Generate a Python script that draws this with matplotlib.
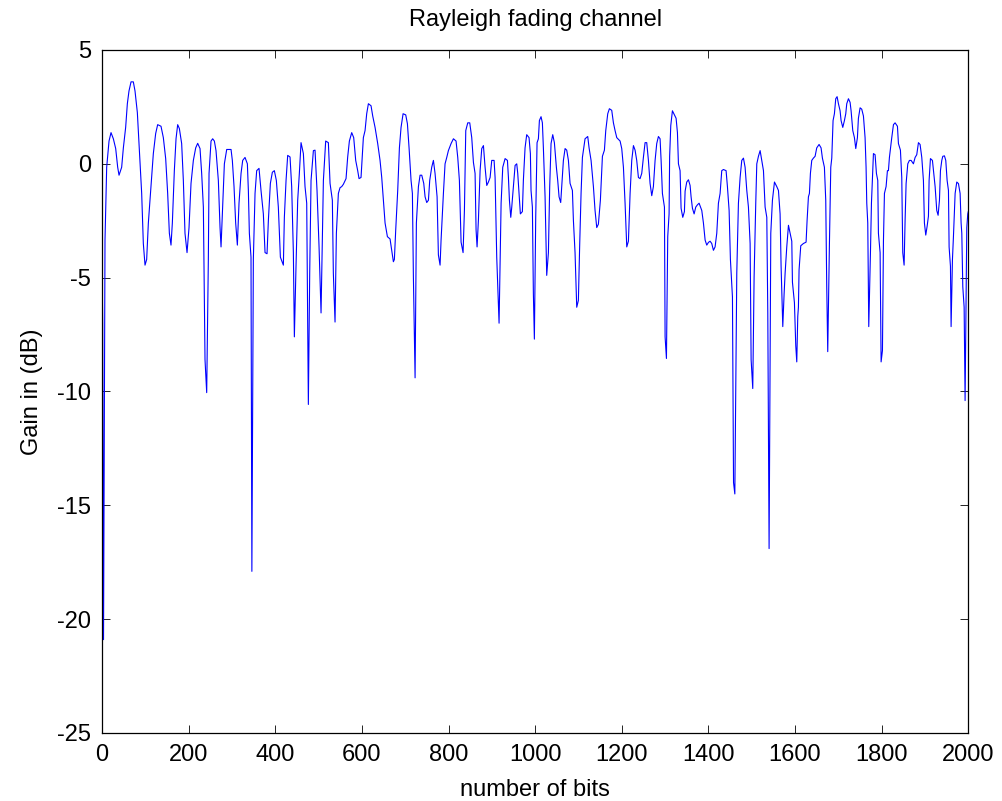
import matplotlib
matplotlib.use("Agg")
import matplotlib.pyplot as plt

# fading envelope (bit index, gain in dB)
bits = [
    0, 1.5, 3.5, 6.9, 10.8, 16.2, 20.8, 26.2, 31.6, 36.2, 39.3, 45.4, 49.3, 54.6, 58.5,
    62.3, 67, 72.3, 76.2, 81.6, 86.2, 91.6, 95.4, 99.3, 103.1, 107, 113.1, 118.5, 123.9,
    128.5, 136.2, 141.6, 147, 151.6, 155.5, 159.3, 162.4, 167, 170.9, 174.7, 178.6, 183.9,
    187.8, 191.6, 196.3, 200.9, 205.5, 210.9, 216.3, 220.9, 226.3, 230.1, 234, 237.8,
    241.7, 245.5, 247.1, 251.7, 255.5, 259.4, 263.2, 268.6, 272.5, 274.8, 277.8, 282.5,
    287.9, 297.9, 300.9, 304.8, 308.6, 312.5, 316.3, 321, 324.8, 330.2,
    335.6, 337.9, 340.2, 344, 346, 349.4, 353.3, 357.1, 362.5, 367.1, 372.5, 376.4, 381,
    384.1, 388.7, 393.3, 397.9, 402.5, 407.1, 411.8, 418.7, 421, 424.9, 428.7, 434.1,
    437.9, 441.8, 444.1, 447.9, 451.8, 455.6, 459.5, 464.9, 468.7, 472.6, 476.4, 479.5,
    482.6, 488, 491.8, 496.4, 501.1, 505.7, 508.7, 511.1, 516.4, 522.6, 526.5, 531.8,
    534.1, 538, 541.1, 545.7, 549.5, 553.4, 557.2, 563.4, 567.2, 571.1, 576.5, 581.1,
    585.7, 590.3, 593.4, 598, 603.4, 607.3, 611.1, 615, 621.1, 625, 630.4, 636.5, 641.9,
    645.8, 649.6, 653.5,
    658.9, 665, 668.9, 672.7, 675, 678.1, 682.7, 686.6, 690.4, 695.1, 701.2, 705.1,
    708.9, 713.5, 716.6, 718.9, 722.8, 725.8, 730.5, 734.3, 738.2, 742.8, 745.9, 749.7,
    753.6, 756.6, 761.2, 765.1, 768.9, 773.6, 776.6, 780.5, 782.8, 788.2, 792, 795.9,
    799.7, 805.9, 811.3, 817.4, 821.3, 825.1, 829, 833.6, 836.7, 839.8, 844.4, 849,
    853.6, 857.5, 861.3, 863.6, 865.9, 869, 872.9, 876.7, 880.6, 884.4, 888.3, 892.1,
    896, 899.8, 905.2, 907.5, 911.3, 916.7, 919, 921.4, 925.2, 930.6, 936, 938.3, 940.6,
    943.7, 946, 949.8, 953.7, 957.5, 959.8,
    962.8, 965.9, 970.5, 972.8, 976.7, 980.5, 985.9, 989, 990.5, 993.6, 995.9, 998.2,
    1001.3, 1004.4, 1007.5, 1009.8, 1013.6, 1016.7, 1019, 1022.9, 1026.7, 1030.6, 1033.6,
    1036.7, 1040.6, 1044.4, 1049, 1052.1, 1055.2, 1059, 1061.4, 1065.2, 1069.1, 1072.9,
    1076.8, 1080.6, 1086, 1088.3, 1092.1, 1096, 1099.8, 1102.9, 1106, 1109.1, 1115.2,
    1121.4, 1124.5, 1129.1, 1134.5, 1138.3, 1142.2, 1146, 1150.6, 1155.3, 1159.9, 1163,
    1167.6, 1171.4, 1176.8, 1180.7, 1184.5, 1188.4, 1196.1, 1199.9, 1203.8, 1207.6,
    1211.5, 1215.3, 1219.2, 1223, 1226.9, 1230.7, 1234.5, 1238.4, 1242.2, 1246.1, 1249.9,
    1253.8, 1257.6, 1261.5, 1265.3, 1269.2, 1273, 1276.9,
    1280.7, 1284.6, 1288.4, 1290.8, 1293.8, 1298.5, 1300, 1303.1, 1306.1, 1309.2, 1310.5,
    1313.1, 1316.9, 1321.5, 1325.4, 1328.5, 1330.8, 1334.6, 1336.9, 1340.8, 1344.6,
    1346.2, 1350, 1353.9, 1357.7, 1360, 1363.1, 1367, 1370.8, 1374.7, 1378.5, 1384.7,
    1388.5, 1392.4, 1396.2, 1400.1, 1403.9, 1407.7, 1411.6, 1415.4, 1419.3, 1423.1, 1427,
    1430.8, 1434.7, 1440.8, 1443.9, 1447.8, 1450.8, 1455.5, 1458, 1461, 1465.5, 1469.3,
    1473.2, 1477, 1480.9, 1484.7, 1488.6, 1492.4, 1496.3, 1498.6, 1502.4, 1505.5, 1509.3,
    1511.7, 1515.5, 1519.4, 1523.2, 1527.1, 1530.9, 1534.8, 1537.1, 1540.1, 1544, 1547.8,
    1552.5, 1557.8, 1561.7, 1565.5, 1567.8, 1571.7, 1574.8, 1577.1, 1580.9, 1584.8,
    1588.6, 1592.5, 1594, 1598.6, 1601.7, 1604, 1606.3,
    1607.8, 1609.3, 1613.2, 1619.3, 1625.5, 1627.8, 1630.9, 1633.2, 1635.5, 1638.6,
    1642.4, 1646.3, 1650.1, 1655.5, 1660.1, 1663.2, 1667.8, 1670.9, 1673.2, 1675.5,
    1679.4, 1682.5, 1684.8, 1687.8, 1690.9, 1694, 1697.1, 1700.2, 1704, 1706.3, 1710.2,
    1714, 1717.1, 1719.4, 1723.3, 1727.1, 1729.4, 1733.3, 1737.1, 1740.2, 1744, 1746.3,
    1750.2, 1754, 1757.9, 1761.7, 1764, 1765.6, 1767.9, 1770.2, 1774.1, 1776.4, 1778.7,
    1781, 1784.8, 1787.9, 1791, 1792.5, 1796.4, 1798.7, 1801.8, 1804.1, 1806.4, 1810.2,
    1813.3, 1815.6, 1817.9, 1823.3, 1827.2, 1831, 1836.4, 1838.7, 1843.3, 1846.4, 1848.7,
    1851.8, 1854.1, 1856.4, 1860.3, 1864.1, 1868, 1873.3, 1877.2, 1881, 1884.9, 1888.7,
    1892.6, 1896.4, 1898.7, 1901.8, 1904.9, 1908, 1909.5, 1912.6, 1917.2, 1921.8, 1923.4,
    1927.2, 1930.3, 1933.4, 1935.7, 1938.8, 1941.1, 1944.9, 1948, 1951.1, 1954.2, 1955.7,
    1958.8, 1960.3, 1963.4, 1965.7, 1969.6, 1973.4, 1977.3, 1981.1, 1983.4, 1985, 1987.3,
    1990.4, 1992.6, 1994.9, 1996.5, 1998.8, 2000,
]
gain_db = [
    -4.2, -7, -20.9, -3.35, -0.15, 1.0, 1.37, 1.1, 0.67, -0.15, -0.5, -0.15, 0.7, 1.6, 2.64,
    3.2, 3.6, 3.6, 3.2, 2.25, 0.58, -1.3, -3.5, -4.45, -4.2, -2.6, -1.0, 0.45, 1.33,
    1.72, 1.65, 1.15, 0.23, -1.3, -3.05, -3.57, -2.6, -0.3, 1.1, 1.72, 1.55, 0.89,
    -0.73, -3.05, -3.9, -2.8, -0.86, 0.15, 0.7, 0.9, 0.67, -0.42, -1.9, -8.6,
    -10.05, -4.2, -0.42, 1.0, 1.1, 1.0, 0.58, -0.73, -2.8, -3.65, -2.2, 0.0,
    0.63, 0.63, 0.15, -1.0, -2.6, -3.57, -1.73, -0.42, 0.15, 0.28,
    0.0, -1.17, -3.05, -4.1, -17.9, -4.2, -1.3, -0.3, -0.2, -1.17, -2.2, -3.9, -3.95,
    -2.48, -0.86, -0.37, -0.3, -0.73, -1.9, -4.1, -4.45, -2.35, -0.73, 0.37, 0.3,
    -1.0, -3.9, -7.6, -4.5, -1.6, -0.42, 0.93, 0.45, -1.0, -1.73, -10.57, -4.8,
    -0.73, 0.58, 0.6, -1.17, -3.65, -6.55, -3.2, -0.73, 1.0, 0.93, -0.86, -1.6,
    -4.8, -6.95, -3.05, -1.3, -1.05, -1.0, -0.9, -0.65, 0.3, 1.0, 1.37, 1.15,
    0.15, -0.3, -0.65, -0.6, 1.15, 1.46, 2.2, 2.64, 2.55, 2.1, 1.6, 0.89, 0.15,
    -0.6, -1.6, -2.6,
    -3.2, -3.3, -3.8, -4.3, -4.2, -2.9, -1.17, 0.7, 1.6, 2.2, 2.15, 1.76,
    0.7, -0.73, -1.3, -4.97, -9.4, -2.6, -1.0, -0.5, -0.5, -0.86, -1.45, -1.7,
    -1.6, -0.73, -0.15, 0.15, -0.42, -1.45, -4.0, -4.45, -3.35, -1.3, 0.0, 0.28,
    0.58, 0.89, 1.1, 1.0, 0.28, -0.73, -3.44, -3.9, -2.05, 1.46, 1.8, 1.8,
    1.15, 0.06, -0.42, -2.9, -3.65, -2.48, -0.3, 0.67, 0.8, -0.15, -0.95, -0.8,
    -0.6, 0.15, 0.15, -0.6, -4.1, -7.0, -4.36, -1.73, -0.15, 0.23, 0.15, -0.6, -1.6,
    -2.35, -1.9, -1.0, -0.07, 0.0, -0.42,
    -1.3, -2.2, -2.1, -0.73, 0.7, 1.28, 1.15, 0.45, -1.17, -1.9, -5.7, -7.7,
    -2.35, 0.93, 1.1, 1.9, 2.07, 1.8, 0.7, -1.45, -4.9, -3.9, -1.0,
    0.89, 1.28, 0.93, -0.15, -0.73, -1.45, -1.7, -1.0, 0.15, 0.67, 0.6,
    0.15, -0.86, -1.17, -2.48, -3.9, -6.3, -6.0, -3.5, -1.3, 0.28, 1.1,
    1.2, 0.7, 0.15, -1.0, -2.05, -2.8, -2.65, -1.6, 0.33, 0.6, 1.46,
    2.2, 2.42, 2.35, 1.8, 1.46, 1.15, 1.0, 0.67, -0.15, -1.73,
    -3.65, -3.4, -1.3, 0.15, 0.8, 0.6, 0.15, -0.6, -0.65, -0.42, 0.28,
    0.93, 0.93, 0.15, -0.86, -1.4, -1.0, 0.15,
    0.89, 1.2, 1.1, 0.15, -1.3, -1.9, -7.6, -8.55, -3.2, -2.2, 0.33,
    1.68, 2.33, 2.15, 2.0, 1.37, 0.0, -0.3, -1.95, -2.35, -2.1,
    -1.2, -0.8, -0.7, -0.95, -1.45, -1.95, -2.2, -1.9, -1.8, -1.73, -2.05,
    -2.6, -3.35, -3.57, -3.45, -3.4, -3.5, -3.8, -3.65, -3.05, -1.73, -1.3,
    -0.3, -0.25, -0.3, -1.0, -2.05, -4.2, -5.85, -14.0, -14.5, -4.8, -1.73,
    -0.6, 0.15, 0.25, -0.15, -1.17, -1.9, -3.5, -8.6, -9.87, -4.97, -1.73,
    0.0, 0.33, 0.58, 0.15, -0.3, -1.9, -2.35, -6.55, -16.9, -3.05, -1.6,
    -0.8, -1.0, -1.17, -2.2, -4.5, -7.15, -5.7, -4.8, -3.65, -2.7,
    -3.05, -3.4, -5.2, -6.1, -8.0, -8.7, -6.7,
    -6.3, -4.66, -3.6, -3.5, -3.44, -2.5, -1.45, -1.3, -0.42, 0.15,
    0.25, 0.33, 0.7, 0.85, 0.7, 0.25, -0.15, -1.6, -5.4, -8.25,
    -3.5, -0.15, 0.25, 1.9, 2.2, 2.86, 2.95, 2.64, 2.33, 1.9, 1.6,
    1.9, 2.2, 2.64, 2.86, 2.7, 2.33, 1.46, 1.15, 0.67, 1.15, 2.0,
    2.46, 2.4, 2.1, 1.15, -0.15, -1.73, -2.6, -7.15, -3.9, -1.73, -0.6,
    0.45, 0.4, -0.42, -0.73, -3.05, -3.9, -8.7, -8.2, -3.4, -1.3, -1.0,
    -0.3, -0.3, 0.28, 1.15, 1.72, 1.8, 1.65, 0.89, 0.6, -0.6, -3.9,
    -4.45, -2.48, -0.87, 0.0, 0.15, 0.15, 0.0, 0.28, 0.4, 0.93, 0.85,
    0.28, -0.73, -2.6, -3.13, -2.75, -2.3, -0.73, 0.23, 0.15, -0.73, -1.0,
    -2.05, -2.26, -1.6, -0.3, 0.15, 0.33, 0.35, 0.15, -0.73, -1.17, -3.65,
    -4.5, -7.15, -4.2, -3.2, -1.3, -0.8, -0.87, -1.3, -2.6, -3.05, -5.4,
    -6.3, -10.4, -5.7, -2.8, -2.2, -2.1,
]

x_ticks = list(range(0, 2001, 200))
y_ticks = list(range(-25, 6, 5))

plt.rcParams.update({"font.family": ["Liberation Sans", "DejaVu Sans"],
                     "font.size": 17, "axes.unicode_minus": False})

fig = plt.figure(figsize=(10.03, 8.01), dpi=100)
ax = fig.add_axes([0.1017, 0.0849, 0.8637, 0.8527])
ax.plot(bits, gain_db, color="#0000ff", lw=0.8)

ax.set_xlim(0, 2000)
ax.set_ylim(-25, 5)
ax.set_xticks(x_ticks)
ax.set_yticks(y_ticks)
ax.tick_params(direction="in", length=6, width=0.6, top=True, right=True, pad=8)
for s in ax.spines.values():
    s.set_linewidth(0.9)

ax.set_title("Rayleigh fading channel", fontsize=17, pad=17)
ax.set_xlabel("number of bits", labelpad=9)
ax.set_ylabel("Gain in (dB)", labelpad=10)

fig.savefig("out.png", dpi=100)
